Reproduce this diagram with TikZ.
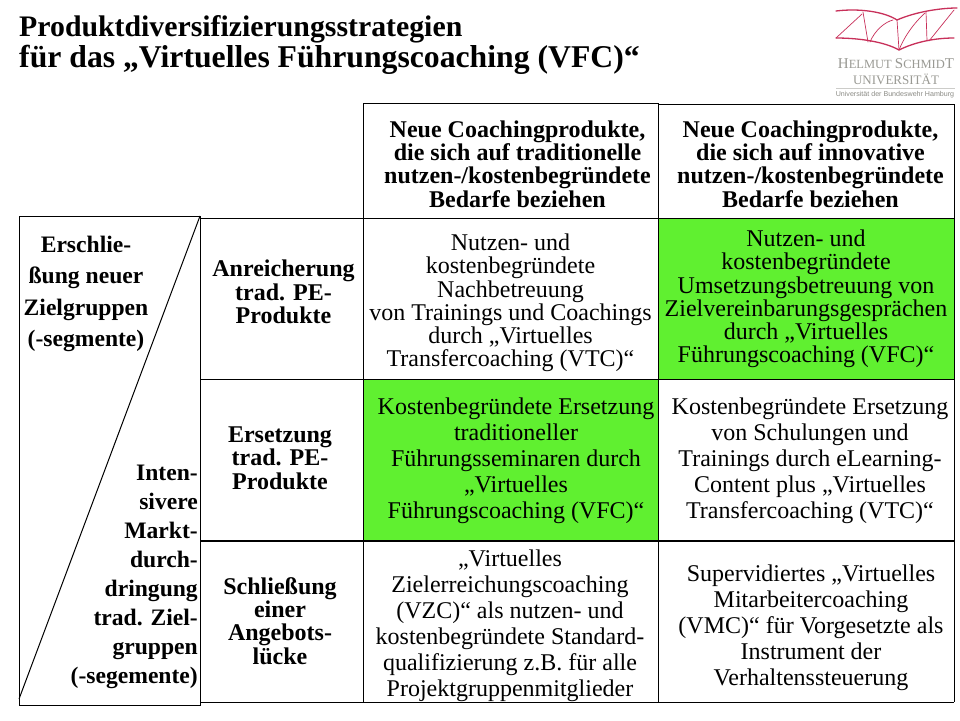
\documentclass[tikz,border=0pt]{standalone}
\usepackage{fontspec}
\setmainfont{Liberation Serif}
\newfontfamily\logofont{Liberation Sans}
\definecolor{hl}{HTML}{60F030}
\definecolor{logored}{HTML}{C8305A}
\definecolor{logogray}{HTML}{9A9A94}
\tikzset{
  x=1pt,y=-1pt,
  cell/.style={draw=black,line width=1pt},
  body/.style={align=center,font=\fontsize{24}{26}\selectfont,inner sep=0pt},
  bodytight/.style={align=center,font=\fontsize{24}{23.3}\selectfont,inner sep=0pt},
  head/.style={align=center,font=\fontsize{24}{23.3}\selectfont\bfseries,inner sep=0pt},
  side/.style={align=center,font=\fontsize{24}{23.3}\selectfont\bfseries,inner sep=0pt},
  triup/.style={font=\fontsize{23.6}{31.3}\selectfont\bfseries,inner sep=0pt},
  tridown/.style={font=\fontsize{23.6}{29}\selectfont\bfseries,inner sep=0pt},
  titlef/.style={anchor=west,inner sep=0pt},
  logoline/.style={draw=logored,line width=1.3pt,line cap=round},
  logothin/.style={draw=logored,line width=.7pt,line cap=round},
}
\begin{document}
\begin{tikzpicture}
\useasboundingbox (0,0) rectangle (960,720);
\fill[white] (0,0) rectangle (960,720);
\node[titlef,font=\fontsize{29.8}{31}\selectfont\bfseries] (t1) at (19,29) {Produktdiversifizierungsstrategien};
\node[titlef,font=\fontsize{31.7}{31}\selectfont\bfseries] (t2) at (19,60) {für das „Virtuelles Führungscoaching (VFC)“};
% green
\fill[hl] (658,218) rectangle (954,380);
\fill[hl] (363,380) rectangle (658,541);
% grid
\draw[cell] (363,103) rectangle (658,218);
\draw[cell] (658,104) rectangle (954,218);
\draw[cell] (200,218) -- (954,218);
\draw[cell] (200,379.5) -- (954,379.5);
\draw[cell,line width=1.5pt] (200,541) -- (954,541);
\draw[cell] (200,702) -- (954,702);
\draw[cell,line width=1.5pt] (363,702.5) -- (658,702.5);
\draw[cell] (363,218) -- (363,703);
\draw[cell] (658,218) -- (658,703);
\draw[cell] (954,218) -- (954,702);
\draw[cell] (19,216) rectangle (200,705);
\draw[cell] (200,216) -- (19,699);
% heads
\node[head] (h1) at (517.5,164) {Neue Coachingprodukte,\\die sich auf traditionelle\\nutzen-/kostenbegründete\\Bedarfe beziehen};
\node[head] (h2) at (810.5,164) {Neue Coachingprodukte,\\die sich auf innovative\\nutzen-/kostenbegründete\\Bedarfe beziehen};
% row labels
\node[side] (r1) at (283.5,292) {Anreicherung\\trad. PE-\\Produkte};
\node[side] (r2) at (280,458) {Ersetzung\\trad. PE-\\Produkte};
\node[side] (r3) at (280,621) {Schließung\\einer\\Angebots-\\lücke};
% cells
\node[bodytight] (c11) at (510.5,303) {Nutzen- und\\kostenbegründete\\Nachbetreuung\\von Trainings und Coachings\\durch „Virtuelles\\Transfercoaching (VTC)“};
\node[bodytight] (c12) at (806,299) {Nutzen- und\\kostenbegründete\\Umsetzungsbetreuung von\\Zielvereinbarungsgesprächen\\durch „Virtuelles\\Führungscoaching (VFC)“};
\node[body] (c21) at (516,461) {Kostenbegründete Ersetzung\\traditioneller\\Führungsseminaren durch\\„Virtuelles\\Führungscoaching (VFC)“};
\node[body] (c22) at (810,461) {Kostenbegründete Ersetzung\\von Schulungen und\\Trainings durch eLearning-\\Content plus „Virtuelles\\Transfercoaching (VTC)“};
\node[body] (c31) at (510,626) {„Virtuelles\\Zielerreichungscoaching\\(VZC)“ als nutzen- und\\kostenbegründete Standard-\\qualifizierung z.B. für alle\\Projektgruppenmitglieder};
\node[body] (c32) at (811,628) {Supervidiertes „Virtuelles\\Mitarbeitercoaching\\(VMC)“ für Vorgesetzte als\\Instrument der\\Verhaltenssteuerung};
% triangle labels
\node[triup,align=center] (l1) at (86,294) {Erschlie-\\ßung neuer\\Zielgruppen\\(-segmente)};
\node[tridown,align=right,anchor=east] (l2) at (198,576.5) {Inten-\\sivere\\Markt-\\durch-\\dringung\\trad. Ziel-\\gruppen\\(-segemente)};
% logo
\draw[logoline] (836,11) .. controls (860,8) and (885,12) .. (897,20) .. controls (915,12) and (940,8) .. (957,8);
\draw[logoline] (836,38) .. controls (860,38) and (885,42) .. (899,50) .. controls (915,42) and (935,38) .. (954,38);
\draw[logothin] (836,38) -- (862,14);
\draw[logothin] (863,12) -- (868,42);
\draw[logothin] (870,42) .. controls (875,30) and (885,22) .. (893,20);
\draw[logothin] (897,20) -- (899,50);
\draw[logothin] (899,50) .. controls (905,35) and (915,22) .. (925,13);
\draw[logothin] (926,12) -- (927,41);
\draw[logothin] (929,41) -- (954,10);
\node[inner sep=0pt,text=logogray,font=\fontsize{15}{16}\selectfont] (lg1) at (896,64) {H\fontsize{12.5}{16}\selectfont ELMUT \fontsize{15}{16}\selectfont S\fontsize{12.5}{16}\selectfont CHMID\fontsize{15}{16}\selectfont T};
\node[inner sep=0pt,text=logogray,font=\fontsize{13}{16}\selectfont] (lg2) at (896,79) {UNIVERSITÄT};
\draw[draw=logogray!50,line width=.5pt] (836,88) -- (955,88);
\node[inner sep=0pt,text=logogray!90!black,font=\logofont\fontsize{7.1}{9}\selectfont] (lg3) at (895,95) {Universität der Bundeswehr Hamburg};
\end{tikzpicture}
\end{document}
